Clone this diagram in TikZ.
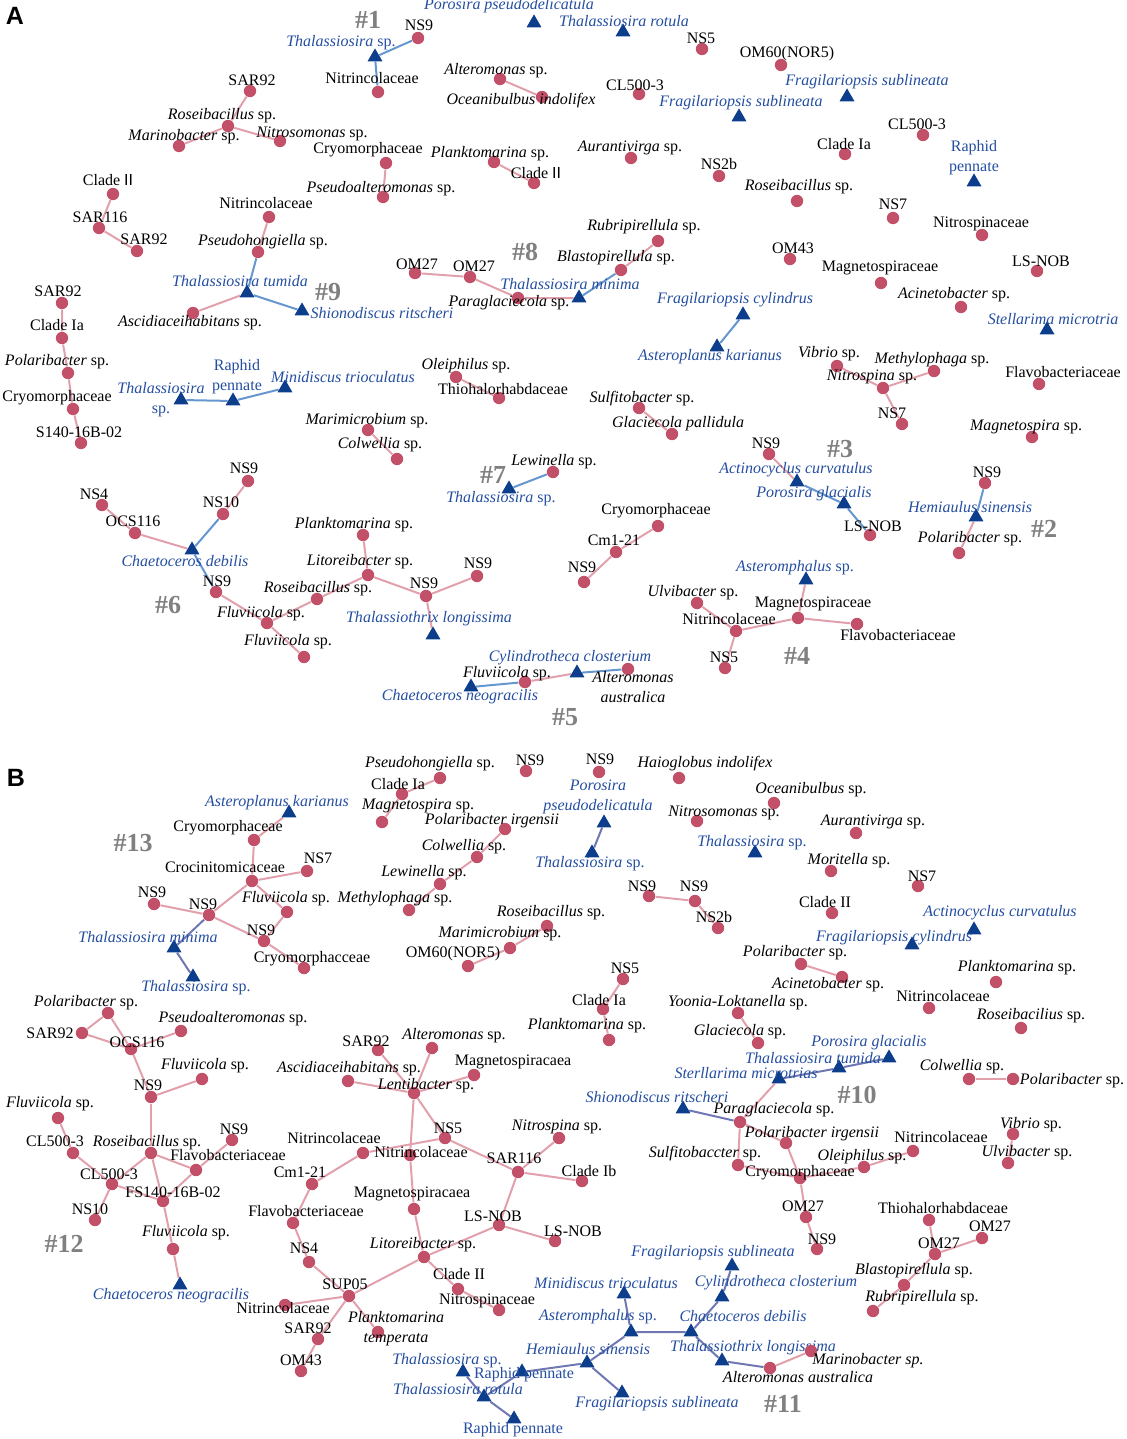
\documentclass[tikz,border=0pt]{standalone}
\usepackage{fontspec}
\setmainfont{Liberation Serif}
\setsansfont{Liberation Sans}
\usepackage{tikz}
\usetikzlibrary{shapes.geometric,backgrounds}

\definecolor{dotpink}{RGB}{194,80,104}
\definecolor{linkpink}{RGB}{226,160,172}
\definecolor{triblue}{RGB}{12,62,140}
\definecolor{linkblue}{RGB}{102,150,208}
\definecolor{linkvio}{RGB}{112,120,180}
\definecolor{txtblue}{RGB}{36,78,160}
\definecolor{hashgray}{RGB}{128,128,128}

\tikzset{
  bac/.style={circle,fill=dotpink,inner sep=0pt,minimum size=6.2pt},
  dia/.style={regular polygon,regular polygon sides=3,fill=triblue,inner sep=0pt,minimum size=8.6pt},
  lab/.style={font=\fontsize{8}{10}\selectfont,inner sep=0pt,text=black},
  dlab/.style={lab,text=txtblue},
  hash/.style={font=\fontsize{13}{13}\selectfont\bfseries,text=hashgray,inner sep=0pt},
  panel/.style={font=\fontsize{12.5}{12.5}\selectfont\sffamily\bfseries,inner sep=0pt},
  plink/.style={draw=linkpink,line width=1pt},
  nlink/.style={draw=linkblue,line width=1pt},
  vlink/.style={draw=linkvio,line width=1pt}
}

\begin{document}
\begin{tikzpicture}[x=0.5pt,y=-0.5pt]
\useasboundingbox (0,0) rectangle (1127,1439);

% ---------------- panel A ----------------
\node[panel] (pa) at (15,16) {A};
\node[hash] (h1) at (368,20) {\#1};
\node[hash] (h9) at (328,292) {\#9};
\node[hash] (h8) at (525,252) {\#8};
\node[hash] (h3) at (840,449) {\#3};
\node[hash] (h2) at (1044,529) {\#2};
\node[hash] (h7) at (493,475) {\#7};
\node[hash] (h6) at (168,605) {\#6};
\node[hash] (h5) at (565,717) {\#5};
\node[hash] (h4) at (797,656) {\#4};

\node[dia] (a1) at (375,57) {};  \node[dlab] (la1) at (341,43) {\textit{Thalassiosira} sp.};
\node[bac] (a2) at (418,38) {};  \node[lab] (la2) at (419,25) {NS9};
\node[bac] (a3) at (378,92) {};  \node[lab] (la3) at (372,78) {Nitrincolaceae};
\node[dia] (a4) at (534,23) {};  \node[dlab] (la4) at (509,6) {\textit{Porosira pseudodelicatula}};
\node[dia] (a5) at (623,32) {};  \node[dlab] (la5) at (624,21) {\textit{Thalassiosira rotula}};
\node[bac] (a6) at (702,49) {};  \node[lab] (la6) at (701,38) {NS5};
\node[bac] (a7) at (781,65) {};  \node[lab] (la7) at (787,54) {OM60(NOR5)};
\node[bac] (a8) at (500,79) {};  \node[lab] (la8) at (496,71) {\textit{Alteromonas} sp.};
\node[bac] (a9) at (542,97) {};  \node[lab] (la9) at (521,101) {\textit{Oceanibulbus indolifex}};
\node[bac] (a10) at (639,94) {}; \node[lab] (la10) at (635,85) {CL500-3};
\node[dia] (a11) at (739,117) {}; \node[dlab] (la11) at (741,103) {\textit{Fragilariopsis sublineata}};
\node[dia] (a12) at (847,97) {}; \node[dlab] (la12) at (867,82) {\textit{Fragilariopsis sublineata}};
\node[bac] (a13) at (923,135) {}; \node[lab] (la13) at (917,124) {CL500-3};
\node[bac] (a14) at (845,154) {}; \node[lab] (la14) at (844,144) {Clade Ia};
\node[dia] (a15) at (974,182) {}; \node[dlab,align=center] (la15) at (974,158) {Raphid\\pennate};
\node[bac] (a16) at (250,91) {};  \node[lab] (la16) at (252,80) {SAR92};
\node[bac] (a17) at (228,126) {}; \node[lab] (la17) at (222,116) {\textit{Roseibacillus} sp.};
\node[bac] (a18) at (179,146) {}; \node[lab] (la18) at (184,137) {\textit{Marinobacter} sp.};
\node[bac] (a19) at (280,141) {}; \node[lab] (la19) at (312,134) {\textit{Nitrosomonas} sp.};
\node[bac] (a20) at (386,163) {}; \node[lab] (la20) at (368,150) {Cryomorphaceae};
\node[bac] (a21) at (383,197) {}; \node[lab] (la21) at (381,189) {\textit{Pseudoalteromonas} sp.};
\node[bac] (a22) at (494,162) {}; \node[lab] (la22) at (490,154) {\textit{Planktomarina} sp.};
\node[bac] (a23) at (534,183) {}; \node[lab] (la23) at (536,173) {Clade \textsf{II}};
\node[bac] (a24) at (631,158) {}; \node[lab] (la24) at (630,148) {\textit{Aurantivirga} sp.};
\node[bac] (a25) at (719,176) {}; \node[lab] (la25) at (719,164) {NS2b};
\node[bac] (a26) at (797,201) {}; \node[lab] (la26) at (799,187) {\textit{Roseibacillus} sp.};
\node[bac] (a27) at (113,194) {}; \node[lab] (la27) at (108,180) {Clade \textsf{II}};
\node[bac] (a28) at (99,228) {};  \node[lab] (la28) at (100,217) {SAR116};
\node[bac] (a29) at (137,251) {}; \node[lab] (la29) at (144,239) {SAR92};
\node[bac] (a30) at (269,217) {}; \node[lab] (la30) at (266,203) {Nitrincolaceae};
\node[bac] (a31) at (258,252) {}; \node[lab] (la31) at (263,242) {\textit{Pseudohongiella} sp.};
\node[dia] (a32) at (247,293) {}; \node[dlab] (la32) at (240,281) {\textit{Thalassiosira tumida}};
\node[dia] (a33) at (302,311) {}; \node[dlab] (la33) at (382,313) {\textit{Shionodiscus ritscheri}};
\node[bac] (a34) at (193,313) {}; \node[lab] (la34) at (190,323) {\textit{Ascidiaceihabitans} sp.};
\node[bac] (a35) at (62,303) {};  \node[lab] (la35) at (58,291) {SAR92};
\node[bac] (a36) at (62,338) {};  \node[lab] (la36) at (57,325) {Clade Ia};
\node[bac] (a37) at (68,373) {};  \node[lab] (la37) at (57,362) {\textit{Polaribacter} sp.};
\node[bac] (a38) at (73,409) {};  \node[lab] (la38) at (57,398) {Cryomorphaceae};
\node[bac] (a39) at (81,443) {};  \node[lab] (la39) at (79,432) {S140-16B-02};
\node[bac] (a40) at (658,241) {}; \node[lab] (la40) at (644,227) {\textit{Rubripirellula} sp.};
\node[bac] (a41) at (621,270) {}; \node[lab] (la41) at (616,258) {\textit{Blastopirellula} sp.};
\node[dia] (a42) at (579,298) {}; \node[dlab] (la42) at (570,284) {\textit{Thalassiosira minima}};
\node[bac] (a43) at (415,273) {}; \node[lab] (la43) at (417,264) {OM27};
\node[bac] (a44) at (470,277) {}; \node[lab] (la44) at (474,266) {OM27};
\node[bac] (a45) at (518,298) {}; \node[lab] (la45) at (509,303) {\textit{Paraglaciecola} sp.};
\node[dia] (a46) at (743,315) {}; \node[dlab] (la46) at (735,300) {\textit{Fragilariopsis cylindrus}};
\node[dia] (a47) at (717,347) {}; \node[dlab] (la47) at (710,357) {\textit{Asteroplanus karianus}};
\node[bac] (a48) at (893,218) {}; \node[lab] (la48) at (893,204) {NS7};
\node[bac] (a49) at (982,235) {}; \node[lab] (la49) at (981,224) {Nitrospinaceae};
\node[bac] (a50) at (790,259) {}; \node[lab] (la50) at (793,248) {OM43};
\node[bac] (a51) at (881,283) {}; \node[lab] (la51) at (880,268) {Magnetospiraceae};
\node[bac] (a52) at (1037,271) {}; \node[lab] (la52) at (1041,261) {LS-NOB};
\node[bac] (a53) at (961,307) {}; \node[lab] (la53) at (954,295) {\textit{Acinetobacter} sp.};
\node[dia] (a54) at (1047,330) {}; \node[dlab] (la54) at (1053,319) {\textit{Stellarima microtria}};
\node[dia] (a55) at (181,400) {}; \node[dlab,align=center] (la55) at (161,400) {\textit{Thalassiosira}\\sp.};
\node[dia] (a56) at (233,401) {}; \node[dlab,align=center] (la56) at (237,377) {Raphid\\pennate};
\node[dia] (a57) at (285,388) {}; \node[dlab] (la57) at (343,377) {\textit{Minidiscus trioculatus}};
\node[bac] (a58) at (456,377) {}; \node[lab] (la58) at (466,366) {\textit{Oleiphilus} sp.};
\node[bac] (a59) at (499,398) {}; \node[lab] (la59) at (503,389) {Thiohalorhabdaceae};
\node[bac] (a60) at (368,430) {}; \node[lab] (la60) at (367,421) {\textit{Marimicrobium} sp.};
\node[bac] (a61) at (397,459) {}; \node[lab] (la61) at (380,445) {\textit{Colwellia} sp.};
\node[bac] (a62) at (639,408) {}; \node[lab] (la62) at (642,399) {\textit{Sulfitobacter} sp.};
\node[bac] (a63) at (672,434) {}; \node[lab] (la63) at (678,424) {\textit{Glaciecola pallidula}};
\node[bac] (a64) at (837,366) {}; \node[lab] (la64) at (829,354) {\textit{Vibrio} sp.};
\node[bac] (a65) at (934,371) {}; \node[lab] (la65) at (932,360) {\textit{Methylophaga} sp.};
\node[bac] (a66) at (883,388) {}; \node[lab] (la66) at (872,377) {\textit{Nitrospina} sp.};
\node[bac] (a67) at (902,424) {}; \node[lab] (la67) at (892,413) {NS7};
\node[bac] (a68) at (1039,384) {}; \node[lab] (la68) at (1063,372) {Flavobacteriaceae};
\node[bac] (a69) at (1032,437) {}; \node[lab] (la69) at (1026,427) {\textit{Magnetospira} sp.};
\node[bac] (a70) at (769,454) {}; \node[lab] (la70) at (766,443) {NS9};
\node[dia] (a71) at (797,482) {}; \node[dlab] (la71) at (796,470) {\textit{Actinocyclus curvatulus}};
\node[dia] (a72) at (844,504) {}; \node[dlab] (la72) at (814,494) {\textit{Porosira glacialis}};
\node[bac] (a73) at (870,535) {}; \node[lab] (la73) at (873,526) {LS-NOB};
\node[bac] (a74) at (985,483) {}; \node[lab] (la74) at (987,472) {NS9};
\node[dia] (a75) at (976,517) {}; \node[dlab] (la75) at (970,507) {\textit{Hemiaulus sinensis}};
\node[bac] (a76) at (959,553) {}; \node[lab] (la76) at (970,539) {\textit{Polaribacter} sp.};
\node[bac] (a77) at (553,472) {}; \node[lab] (la77) at (554,462) {\textit{Lewinella} sp.};
\node[dia] (a78) at (509,489) {}; \node[dlab] (la78) at (501,499) {\textit{Thalassiosira} sp.};
\node[bac] (a79) at (658,526) {}; \node[lab] (la79) at (656,511) {Cryomorphaceae};
\node[bac] (a80) at (616,552) {}; \node[lab] (la80) at (614,540) {Cm1-21};
\node[bac] (a81) at (584,582) {}; \node[lab] (la81) at (582,567) {NS9};
\node[bac] (a82) at (248,481) {}; \node[lab] (la82) at (244,468) {NS9};
\node[bac] (a83) at (223,514) {}; \node[lab] (la83) at (221,502) {NS10};
\node[bac] (a84) at (102,505) {}; \node[lab] (la84) at (94,494) {NS4};
\node[bac] (a85) at (135,533) {}; \node[lab] (la85) at (133,521) {OCS116};
\node[dia] (a86) at (192,550) {}; \node[dlab] (la86) at (185,561) {\textit{Chaetoceros debilis}};
\node[bac] (a87) at (216,592) {}; \node[lab] (la87) at (217,581) {NS9};
\node[bac] (a88) at (267,623) {}; \node[lab] (la88) at (261,614) {\textit{Fluviicola} sp.};
\node[bac] (a89) at (304,657) {}; \node[lab] (la89) at (288,642) {\textit{Fluviicola} sp.};
\node[bac] (a90) at (317,599) {}; \node[lab] (la90) at (318,589) {\textit{Roseibacillus} sp.};
\node[bac] (a91) at (368,575) {}; \node[lab] (la91) at (360,562) {\textit{Litoreibacter} sp.};
\node[bac] (a92) at (363,535) {}; \node[lab] (la92) at (354,525) {\textit{Planktomarina} sp.};
\node[bac] (a93) at (426,596) {}; \node[lab] (la93) at (424,583) {NS9};
\node[bac] (a94) at (477,576) {}; \node[lab] (la94) at (478,563) {NS9};
\node[dia] (a95) at (433,635) {}; \node[dlab] (la95) at (429,619) {\textit{Thalassiothrix longissima}};
\node[dia] (a96) at (577,673) {}; \node[dlab] (la96) at (570,658) {\textit{Cylindrotheca closterium}};
\node[bac] (a97) at (628,669) {}; \node[lab,align=center] (la97) at (633,687) {\textit{Alteromonas}\\\textit{australica}};
\node[bac] (a98) at (525,682) {}; \node[lab] (la98) at (507,674) {\textit{Fluviicola} sp.};
\node[dia] (a99) at (471,687) {}; \node[dlab] (la99) at (460,697) {\textit{Chaetoceros neogracilis}};
\node[dia] (a100) at (806,580) {}; \node[dlab] (la100) at (795,568) {\textit{Asteromphalus} sp.};
\node[bac] (a101) at (697,603) {}; \node[lab] (la101) at (693,593) {\textit{Ulvibacter} sp.};
\node[bac] (a102) at (736,631) {}; \node[lab] (la102) at (729,619) {Nitrincolaceae};
\node[bac] (a103) at (725,668) {}; \node[lab] (la103) at (724,657) {NS5};
\node[bac] (a104) at (798,618) {}; \node[lab] (la104) at (813,604) {Magnetospiraceae};
\node[bac] (a105) at (857,624) {}; \node[lab] (la105) at (898,635) {Flavobacteriaceae};

% ---------------- panel B ----------------
\node[panel] (pb) at (16,778) {B};
\node[hash] (h13) at (133,843) {\#13};
\node[hash] (h12) at (64,1244) {\#12};
\node[hash] (h10) at (857,1095) {\#10};
\node[hash] (h11) at (783,1404) {\#11};

\node[dia] (b1) at (289,813) {};  \node[dlab] (lb1) at (277,803) {\textit{Asteroplanus karianus}};
\node[bac] (b2) at (254,840) {};  \node[lab] (lb2) at (228,828) {Cryomorphaceae};
\node[bac] (b3) at (252,881) {};  \node[lab] (lb3) at (225,867) {Crocinitomicaceae};
\node[bac] (b4) at (307,871) {};  \node[lab] (lb4) at (318,858) {NS7};
\node[bac] (b5) at (154,904) {};  \node[lab] (lb5) at (152,892) {NS9};
\node[bac] (b6) at (209,915) {};  \node[lab] (lb6) at (203,904) {NS9};
\node[bac] (b7) at (287,912) {};  \node[lab] (lb7) at (286,899) {\textit{Fluviicola} sp.};
\node[bac] (b8) at (264,941) {};  \node[lab] (lb8) at (261,930) {NS9};
\node[bac] (b9) at (304,968) {};  \node[lab] (lb9) at (312,959) {Cryomorphacceae};
\node[dia] (b10) at (174,948) {}; \node[dlab] (lb10) at (148,937) {\textit{Thalassiosira minima}};
\node[dia] (b11) at (193,977) {}; \node[dlab] (lb11) at (196,988) {\textit{Thalassiosira} sp.};
\node[bac] (b12) at (108,1013) {}; \node[lab] (lb12) at (86,1003) {\textit{Polaribacter} sp.};
\node[bac] (b13) at (82,1033) {};  \node[lab] (lb13) at (50,1033) {SAR92};
\node[bac] (b14) at (131,1049) {}; \node[lab] (lb14) at (137,1042) {OCS116};
\node[bac] (b15) at (181,1031) {}; \node[lab] (lb15) at (233,1019) {\textit{Pseudoalteromonas} sp.};
\node[bac] (b16) at (202,1079) {}; \node[lab] (lb16) at (205,1066) {\textit{Fluviicola} sp.};
\node[bac] (b17) at (151,1097) {}; \node[lab] (lb17) at (148,1085) {NS9};
\node[bac] (b18) at (58,1118) {};  \node[lab] (lb18) at (50,1104) {\textit{Fluviicola} sp.};
\node[bac] (b19) at (73,1153) {};  \node[lab] (lb19) at (55,1141) {CL500-3};
\node[bac] (b20) at (151,1153) {}; \node[lab] (lb20) at (147,1143) {\textit{Roseibacillus} sp.};
\node[bac] (b21) at (232,1140) {}; \node[lab] (lb21) at (234,1129) {NS9};
\node[bac] (b22) at (196,1170) {}; \node[lab] (lb22) at (228,1155) {Flavobacteriaceae};
\node[bac] (b23) at (112,1184) {}; \node[lab] (lb23) at (109,1174) {CL500-3};
\node[bac] (b24) at (163,1201) {}; \node[lab] (lb24) at (173,1192) {FS140-16B-02};
\node[bac] (b25) at (95,1220) {};  \node[lab] (lb25) at (90,1209) {NS10};
\node[bac] (b26) at (173,1249) {}; \node[lab] (lb26) at (186,1233) {\textit{Fluviicola} sp.};
\node[dia] (b27) at (180,1285) {}; \node[dlab] (lb27) at (171,1296) {\textit{Chaetoceros neogracilis}};
\node[bac] (b28) at (378,1050) {}; \node[lab] (lb28) at (366,1041) {SAR92};
\node[bac] (b29) at (432,1048) {}; \node[lab] (lb29) at (454,1036) {\textit{Alteromonas} sp.};
\node[bac] (b30) at (474,1075) {}; \node[lab] (lb30) at (513,1062) {Magnetospiracaea};
\node[bac] (b31) at (348,1081) {}; \node[lab] (lb31) at (349,1069) {\textit{Ascidiaceihabitans} sp.};
\node[bac] (b32) at (414,1093) {}; \node[lab] (lb32) at (426,1086) {\textit{Lentibacter} sp.};
\node[bac] (b33) at (445,1138) {}; \node[lab] (lb33) at (448,1128) {NS5};
\node[bac] (b34) at (410,1155) {}; \node[lab] (lb34) at (421,1152) {Nitrincolaceae};
\node[bac] (b35) at (363,1153) {}; \node[lab] (lb35) at (334,1138) {Nitrincolaceae};
\node[bac] (b36) at (518,1172) {}; \node[lab] (lb36) at (514,1158) {SAR116};
\node[bac] (b37) at (559,1138) {}; \node[lab] (lb37) at (557,1127) {\textit{Nitrospina} sp.};
\node[bac] (b38) at (582,1181) {}; \node[lab] (lb38) at (589,1171) {Clade Ib};
\node[bac] (b39) at (414,1209) {}; \node[lab] (lb39) at (412,1194) {Magnetospiracaea};
\node[bac] (b40) at (499,1225) {}; \node[lab] (lb40) at (493,1216) {LS-NOB};
\node[bac] (b41) at (555,1241) {}; \node[lab] (lb41) at (573,1231) {LS-NOB};
\node[bac] (b42) at (424,1257) {}; \node[lab] (lb42) at (423,1245) {\textit{Litoreibacter} sp.};
\node[bac] (b43) at (458,1289) {}; \node[lab] (lb43) at (459,1274) {Clade II};
\node[bac] (b44) at (499,1310) {}; \node[lab] (lb44) at (487,1301) {Nitrospinaceae};
\node[bac] (b45) at (312,1184) {}; \node[lab] (lb45) at (300,1172) {Cm1-21};
\node[bac] (b46) at (293,1223) {}; \node[lab] (lb46) at (306,1211) {Flavobacteriaceae};
\node[bac] (b47) at (309,1262) {}; \node[lab] (lb47) at (304,1248) {NS4};
\node[bac] (b48) at (349,1296) {}; \node[lab] (lb48) at (345,1284) {SUP05};
\node[bac] (b49) at (285,1305) {}; \node[lab] (lb49) at (283,1308) {Nitrincolaceae};
\node[bac] (b50) at (318,1339) {}; \node[lab] (lb50) at (308,1328) {SAR92};
\node[bac] (b51) at (301,1371) {}; \node[lab] (lb51) at (301,1360) {OM43};
\node[bac] (b52) at (378,1332) {}; \node[lab,align=center] (lb52) at (396,1329) {\textit{Planktomarina}\\\textit{temperata}};
\node[bac] (b53) at (440,778) {};  \node[lab] (lb53) at (430,764) {\textit{Pseudohongiella} sp.};
\node[bac] (b54) at (402,794) {};  \node[lab] (lb54) at (398,784) {Clade Ia};
\node[bac] (b55) at (382,822) {};  \node[lab] (lb55) at (418,806) {\textit{Magnetospira} sp.};
\node[bac] (b56) at (526,771) {};  \node[lab] (lb56) at (530,760) {NS9};
\node[bac] (b57) at (599,772) {};  \node[lab] (lb57) at (600,759) {NS9};
\node[bac] (b58) at (679,778) {};  \node[lab] (lb58) at (705,764) {\textit{Haioglobus indolifex}};
\node[dia] (b59) at (604,823) {};  \node[dlab,align=center] (lb59) at (598,797) {\textit{Porosira}\\\textit{pseudodelicatula}};
\node[dia] (b60) at (592,853) {};  \node[dlab] (lb60) at (590,864) {\textit{Thalassiosira} sp.};
\node[bac] (b61) at (697,821) {};  \node[lab] (lb61) at (724,813) {\textit{Nitrosomonas} sp.};
\node[dia] (b62) at (755,853) {};  \node[dlab] (lb62) at (752,843) {\textit{Thalassiosira} sp.};
\node[bac] (b63) at (505,829) {};  \node[lab] (lb63) at (492,821) {\textit{Polaribacter irgensii}};
\node[bac] (b64) at (477,857) {};  \node[lab] (lb64) at (464,847) {\textit{Colwellia} sp.};
\node[bac] (b65) at (440,884) {};  \node[lab] (lb65) at (424,873) {\textit{Lewinella} sp.};
\node[bac] (b66) at (409,910) {};  \node[lab] (lb66) at (395,899) {\textit{Methylophaga} sp.};
\node[bac] (b67) at (547,926) {};  \node[lab] (lb67) at (551,913) {\textit{Roseibacillus} sp.};
\node[bac] (b68) at (510,948) {};  \node[lab] (lb68) at (500,934) {\textit{Marimicrobium} sp.};
\node[bac] (b69) at (468,966) {};  \node[lab] (lb69) at (453,954) {OM60(NOR5)};
\node[bac] (b70) at (649,896) {};  \node[lab] (lb70) at (642,886) {NS9};
\node[bac] (b71) at (695,901) {};  \node[lab] (lb71) at (694,886) {NS9};
\node[bac] (b72) at (718,928) {};  \node[lab] (lb72) at (714,917) {NS2b};
\node[bac] (b73) at (623,979) {};  \node[lab] (lb73) at (625,968) {NS5};
\node[bac] (b74) at (603,1009) {}; \node[lab] (lb74) at (599,1000) {Clade Ia};
\node[bac] (b75) at (609,1040) {}; \node[lab] (lb75) at (587,1026) {\textit{Planktomarina} sp.};
\node[bac] (b76) at (738,1013) {}; \node[lab] (lb76) at (738,1003) {\textit{Yoonia-Loktanella} sp.};
\node[bac] (b77) at (758,1043) {}; \node[lab] (lb77) at (740,1032) {\textit{Glaciecola} sp.};
\node[bac] (b78) at (774,803) {};  \node[lab] (lb78) at (811,790) {\textit{Oceanibulbus} sp.};
\node[bac] (b79) at (856,833) {};  \node[lab] (lb79) at (873,822) {\textit{Aurantivirga} sp.};
\node[bac] (b80) at (831,871) {};  \node[lab] (lb80) at (849,861) {\textit{Moritella} sp.};
\node[bac] (b81) at (918,886) {};  \node[lab] (lb81) at (922,876) {NS7};
\node[bac] (b82) at (832,913) {};  \node[lab] (lb82) at (825,902) {Clade II};
\node[dia] (b83) at (974,930) {};  \node[dlab] (lb83) at (1000,913) {\textit{Actinocyclus curvatulus}};
\node[dia] (b84) at (912,945) {};  \node[dlab] (lb84) at (894,938) {\textit{Fragilariopsis cylindrus}};
\node[bac] (b85) at (801,964) {};  \node[lab] (lb85) at (795,953) {\textit{Polaribacter} sp.};
\node[bac] (b86) at (842,977) {};  \node[lab] (lb86) at (828,985) {\textit{Acinetobacter} sp.};
\node[bac] (b87) at (996,982) {};  \node[lab] (lb87) at (1017,968) {\textit{Planktomarina} sp.};
\node[bac] (b88) at (929,1008) {}; \node[lab] (lb88) at (943,996) {Nitrincolaceae};
\node[bac] (b89) at (1021,1028) {}; \node[lab] (lb89) at (1031,1016) {\textit{Roseibacilius} sp.};
\node[bac] (b90) at (969,1079) {}; \node[lab] (lb90) at (962,1067) {\textit{Colwellia} sp.};
\node[bac] (b91) at (1013,1079) {}; \node[lab] (lb91) at (1072,1081) {\textit{Polaribacter} sp.};
\node[dia] (b92) at (889,1058) {}; \node[dlab] (lb92) at (869,1043) {\textit{Porosira glacialis}};
\node[dia] (b93) at (839,1068) {}; \node[dlab] (lb93) at (813,1058) {\textit{Thalassiosira tumida}};
\node[dia] (b94) at (779,1079) {}; \node[dlab] (lb94) at (746,1073) {\textit{Sterllarima microtrias}};
\node[dia] (b95) at (683,1109) {}; \node[dlab] (lb95) at (657,1097) {\textit{Shionodiscus ritscheri}};
\node[bac] (b96) at (740,1122) {}; \node[lab] (lb96) at (774,1110) {\textit{Paraglaciecola} sp.};
\node[bac] (b97) at (738,1165) {}; \node[lab] (lb97) at (705,1154) {\textit{Sulfitobaccter} sp.};
\node[bac] (b98) at (786,1143) {}; \node[lab] (lb98) at (812,1134) {\textit{Polaribacter irgensii}};
\node[bac] (b99) at (800,1178) {}; \node[lab] (lb99) at (800,1173) {Cryomorphaceae};
\node[bac] (b100) at (864,1167) {}; \node[lab] (lb100) at (862,1157) {\textit{Oleiphilus} sp.};
\node[bac] (b101) at (913,1151) {}; \node[lab] (lb101) at (941,1137) {Nitrincolaceae};
\node[bac] (b102) at (806,1217) {}; \node[lab] (lb102) at (803,1206) {OM27};
\node[bac] (b103) at (817,1249) {}; \node[lab] (lb103) at (822,1239) {NS9};
\node[bac] (b104) at (1013,1134) {}; \node[lab] (lb104) at (1031,1125) {\textit{Vibrio} sp.};
\node[bac] (b105) at (1008,1163) {}; \node[lab] (lb105) at (1027,1153) {\textit{Ulvibacter} sp.};
\node[bac] (b106) at (929,1220) {}; \node[lab] (lb106) at (943,1208) {Thiohalorhabdaceae};
\node[bac] (b107) at (982,1238) {}; \node[lab] (lb107) at (990,1226) {OM27};
\node[bac] (b108) at (935,1254) {}; \node[lab] (lb108) at (939,1243) {OM27};
\node[bac] (b109) at (904,1285) {}; \node[lab] (lb109) at (914,1271) {\textit{Blastopirellula} sp.};
\node[bac] (b110) at (873,1311) {}; \node[lab] (lb110) at (922,1298) {\textit{Rubripirellula} sp.};
\node[dia] (b111) at (732,1266) {}; \node[dlab] (lb111) at (713,1253) {\textit{Fragilariopsis sublineata}};
\node[dia] (b112) at (624,1294) {}; \node[dlab] (lb112) at (606,1283) {\textit{Minidiscus trioculatus}};
\node[dia] (b113) at (722,1297) {}; \node[dlab] (lb113) at (776,1283) {\textit{Cylindrotheca closterium}};
\node[dia] (b114) at (631,1332) {}; \node[dlab] (lb114) at (598,1317) {\textit{Asteromphalus} sp.};
\node[dia] (b115) at (691,1332) {}; \node[dlab] (lb115) at (743,1316) {\textit{Chaetoceros debilis}};
\node[dia] (b116) at (587,1363) {}; \node[dlab] (lb116) at (588,1349) {\textit{Hemiaulus sinensis}};
\node[dia] (b117) at (722,1361) {}; \node[dlab] (lb117) at (753,1348) {\textit{Thalassiothrix longissima}};
\node[bac] (b118) at (770,1368) {}; \node[lab] (lb118) at (798,1377) {\textit{Alteromonas australica}};
\node[bac] (b119) at (811,1351) {}; \node[lab] (lb119) at (868,1361) {\textit{Marinobacter sp.}};
\node[dia] (b120) at (463,1372) {}; \node[dlab] (lb120) at (447,1361) {\textit{Thalassiosira} sp.};
\node[dia] (b121) at (522,1372) {}; \node[dlab] (lb121) at (524,1375) {Raphid pennate};
\node[dia] (b122) at (484,1397) {}; \node[dlab] (lb122) at (458,1389) {\textit{Thalassiosira rotula}};
\node[dia] (b123) at (514,1419) {}; \node[dlab] (lb123) at (513,1430) {Raphid pennate};
\node[dia] (b124) at (622,1393) {}; \node[dlab] (lb124) at (657,1404) {\textit{Fragilariopsis sublineata}};

\begin{scope}[on background layer]
% panel A links
\draw[nlink] (a1) -- (a2); \draw[nlink] (a1) -- (a3);
\draw[plink] (a8) -- (a9);
\draw[plink] (a17) -- (a16); \draw[plink] (a17) -- (a18); \draw[plink] (a17) -- (a19);
\draw[plink] (a20) -- (a21); \draw[plink] (a22) -- (a23);
\draw[plink] (a28) -- (a27); \draw[plink] (a28) -- (a29);
\draw[plink] (a30) -- (a31); \draw[nlink] (a31) -- (a32); \draw[nlink] (a32) -- (a33); \draw[plink] (a32) -- (a34);
\draw[plink] (a35) -- (a36) -- (a37) -- (a38) -- (a39);
\draw[plink] (a43) -- (a44) -- (a45) -- (a42); \draw[nlink] (a42) -- (a41); \draw[plink] (a41) -- (a40);
\draw[nlink] (a46) -- (a47);
\draw[nlink] (a55) -- (a56); \draw[nlink] (a56) -- (a57);
\draw[plink] (a58) -- (a59); \draw[plink] (a60) -- (a61); \draw[plink] (a62) -- (a63);
\draw[plink] (a66) -- (a64); \draw[plink] (a66) -- (a65); \draw[plink] (a66) -- (a67);
\draw[plink] (a70) -- (a71); \draw[nlink] (a71) -- (a72); \draw[nlink] (a72) -- (a73);
\draw[nlink] (a74) -- (a75); \draw[plink] (a75) -- (a76);
\draw[nlink] (a77) -- (a78);
\draw[plink] (a79) -- (a80) -- (a81);
\draw[plink] (a84) -- (a85) -- (a86); \draw[nlink] (a86) -- (a83); \draw[plink] (a83) -- (a82);
\draw[nlink] (a86) -- (a87); \draw[plink] (a87) -- (a88) -- (a89); \draw[plink] (a88) -- (a90) -- (a91) -- (a92);
\draw[plink] (a91) -- (a93) -- (a94); \draw[plink] (a93) -- (a95);
\draw[nlink] (a99) -- (a98); \draw[plink] (a98) -- (a96); \draw[nlink] (a96) -- (a97);
\draw[plink] (a101) -- (a102) -- (a103); \draw[plink] (a102) -- (a104) -- (a105); \draw[plink] (a104) -- (a100);
% panel B links
\draw[plink] (b1) -- (b2) -- (b3) -- (b4); \draw[plink] (b3) -- (b6); \draw[plink] (b3) -- (b7) -- (b8);
\draw[plink] (b5) -- (b6) -- (b8) -- (b9); \draw[vlink] (b6) -- (b10) -- (b11);
\draw[plink] (b12) -- (b13) -- (b14) -- (b12); \draw[plink] (b14) -- (b15); \draw[plink] (b14) -- (b17) -- (b16);
\draw[plink] (b17) -- (b20); \draw[plink] (b18) -- (b19) -- (b23) -- (b20); \draw[plink] (b23) -- (b25);
\draw[plink] (b23) -- (b24) -- (b20) -- (b22) -- (b21); \draw[plink] (b22) -- (b24) -- (b26) -- (b27);
\draw[plink] (b28) -- (b32); \draw[plink] (b29) -- (b32); \draw[plink] (b30) -- (b32); \draw[plink] (b31) -- (b32);
\draw[plink] (b32) -- (b33); \draw[plink] (b32) -- (b34) -- (b39) -- (b42); \draw[plink] (b35) -- (b33);
\draw[plink] (b33) -- (b36) -- (b37); \draw[plink] (b36) -- (b38); \draw[plink] (b36) -- (b40) -- (b41);
\draw[plink] (b40) -- (b42) -- (b43) -- (b44); \draw[plink] (b42) -- (b48);
\draw[plink] (b35) -- (b45) -- (b46) -- (b47) -- (b48) -- (b49); \draw[plink] (b48) -- (b50) -- (b51); \draw[plink] (b48) -- (b52);
\draw[plink] (b53) -- (b54) -- (b55);
\draw[vlink] (b59) -- (b60);
\draw[plink] (b63) -- (b64) -- (b65) -- (b66);
\draw[plink] (b67) -- (b68) -- (b69);
\draw[plink] (b70) -- (b71) -- (b72);
\draw[plink] (b73) -- (b74) -- (b75);
\draw[plink] (b76) -- (b77);
\draw[plink] (b85) -- (b86); \draw[plink] (b90) -- (b91);
\draw[vlink] (b92) -- (b93) -- (b94); \draw[plink] (b94) -- (b96); \draw[vlink] (b95) -- (b96);
\draw[plink] (b96) -- (b97) -- (b99); \draw[plink] (b96) -- (b98) -- (b99);
\draw[plink] (b99) -- (b100) -- (b101); \draw[plink] (b99) -- (b102) -- (b103);
\draw[plink] (b104) -- (b105);
\draw[plink] (b106) -- (b108); \draw[plink] (b107) -- (b108) -- (b109) -- (b110);
\draw[vlink] (b112) -- (b114) -- (b115) -- (b113) -- (b111); \draw[vlink] (b115) -- (b117) -- (b118);
\draw[plink] (b118) -- (b119);
\draw[vlink] (b114) -- (b116) -- (b124); \draw[vlink] (b116) -- (b121) -- (b122);
\draw[vlink] (b120) -- (b122) -- (b123);
\end{scope}
\end{tikzpicture}
\end{document}
